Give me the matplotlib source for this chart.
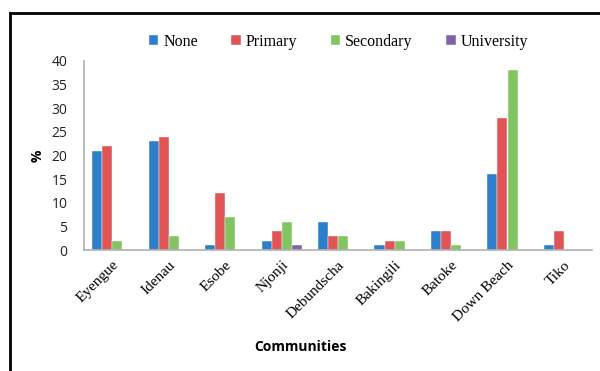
import numpy as np
from matplotlib import pyplot as plt
from matplotlib.lines import Line2D

communities = ["Eyengue", "Idenau", "Esobe", "Njonji", "Debundscha",
               "Bakingili", "Batoke", "Down Beach", "Tiko"]
none = [21, 23, 1, 2, 6, 1, 4, 16, 1]
primary = [22, 24, 12, 4, 3, 2, 4, 28, 4]
secondary = [2, 3, 7, 6, 3, 2, 1, 38, 0]
university = [0, 0, 0, 1, 0, 0, 0, 0, 0]

series = [("None", none, "#2e7fc9"),
          ("Primary", primary, "#e05456"),
          ("Secondary", secondary, "#82c462"),
          ("University", university, "#8064a8")]

fig = plt.figure(figsize=(6, 3.71), dpi=100)
ax = fig.add_axes([0.14, 0.326, 0.847, 0.51])

x = np.arange(len(communities))
w = 0.178
for i, (name, vals, col) in enumerate(series):
    ax.bar(x + (i - 1.5) * w, vals, w, color=col, label=name,
           edgecolor="white", linewidth=0.3)

ax.set_xlim(-0.5, len(communities) - 0.5)
ax.set_ylim(0, 40)
ax.set_yticks(range(0, 41, 5))
ax.tick_params(axis="both", length=0)
ax.tick_params(axis="y", labelsize=10, pad=12)
for t in ax.get_yticklabels():
    t.set_family("Open Sans")
    t.set_color("#222222")
ax.set_xticks(x)
ax.set_xticklabels(communities, rotation=45, ha="right", rotation_mode="anchor",
                   family="Liberation Serif", fontsize=11)
ax.tick_params(axis="x", pad=6)
for side in ["top", "right"]:
    ax.spines[side].set_visible(False)
for side in ["left", "bottom"]:
    ax.spines[side].set_color("#b0b0b0")
    ax.spines[side].set_linewidth(1.2)

fig.text(0.062, 0.58, "%", rotation=90, fontsize=10, fontweight="bold",
         ha="center", va="center", family="Open Sans")
fig.text(0.5, 0.065, "Communities", fontsize=10, fontweight="bold",
         ha="center", va="center", family="Open Sans")

fig.legend(loc="center", bbox_to_anchor=(0.564, 0.888), ncol=4, frameon=False,
           prop={"family": "Liberation Serif", "size": 11.5},
           handlelength=0.6, handleheight=0.6, handletextpad=0.3,
           columnspacing=2.1)

# border around the chart area
fig.add_artist(Line2D([0.0167, 0.0167], [0, 0.965], color="black", lw=2,
                      transform=fig.transFigure))
fig.add_artist(Line2D([0.0167, 1.0], [0.965, 0.965], color="black", lw=2,
                      transform=fig.transFigure))

fig.savefig("out.png", dpi=100)
